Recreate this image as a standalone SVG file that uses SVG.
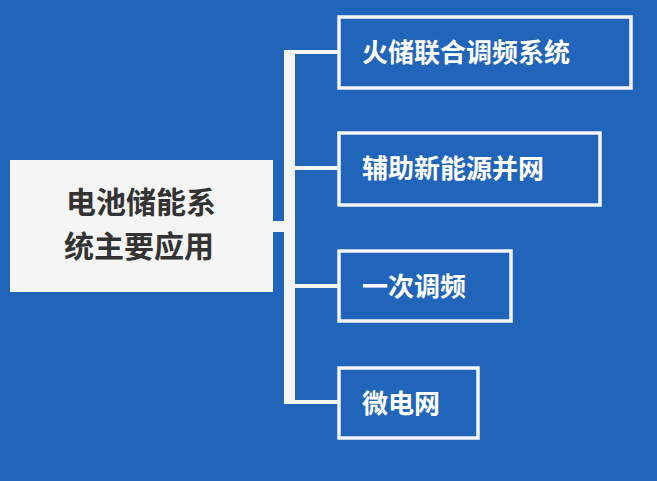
<svg xmlns="http://www.w3.org/2000/svg" width="657" height="481" viewBox="0 0 657 481">
<style>
.bg{fill:#2165bb}
.box{fill:#2165bb;stroke:#f5f5f5;stroke-width:3.5}
.t{font-family:"Noto Sans CJK SC",sans-serif;font-weight:bold;font-size:26px;fill:#ffffff}
.c{fill:#f5f5f5}
</style>
<rect class="bg" x="0" y="0" width="657" height="481"/>
<g id="connectors">
<rect class="c" x="272" y="221" width="23" height="11"/>
<rect class="c" x="284" y="50" width="11" height="353"/>
<rect class="c" x="284" y="50" width="54" height="4"/>
<rect class="c" x="284" y="166" width="54" height="4"/>
<rect class="c" x="284" y="284" width="54" height="4"/>
<rect class="c" x="284" y="400" width="54" height="4"/>
</g>
<g id="root">
<rect x="10" y="160" width="263" height="132" fill="#f5f5f5"/>
<text x="141" y="213" text-anchor="middle" font-family="Noto Sans CJK SC,sans-serif" font-weight="bold" font-size="30" fill="#333333">电池储能系</text>
<text x="139" y="257" text-anchor="middle" font-family="Noto Sans CJK SC,sans-serif" font-weight="bold" font-size="30" fill="#333333">统主要应用</text>
</g>
<g id="n1"><rect class="box" x="339" y="17" width="292" height="71"/><text class="t" x="362" y="62">火储联合调频系统</text></g>
<g id="n2"><rect class="box" x="339" y="133" width="261" height="72"/><text class="t" x="362" y="178">辅助新能源并网</text></g>
<g id="n3"><rect class="box" x="339" y="251" width="172" height="70"/><text class="t" x="362" y="296">一次调频</text></g>
<g id="n4"><rect class="box" x="339" y="368" width="139" height="70"/><text class="t" x="362" y="413">微电网</text></g>
</svg>
